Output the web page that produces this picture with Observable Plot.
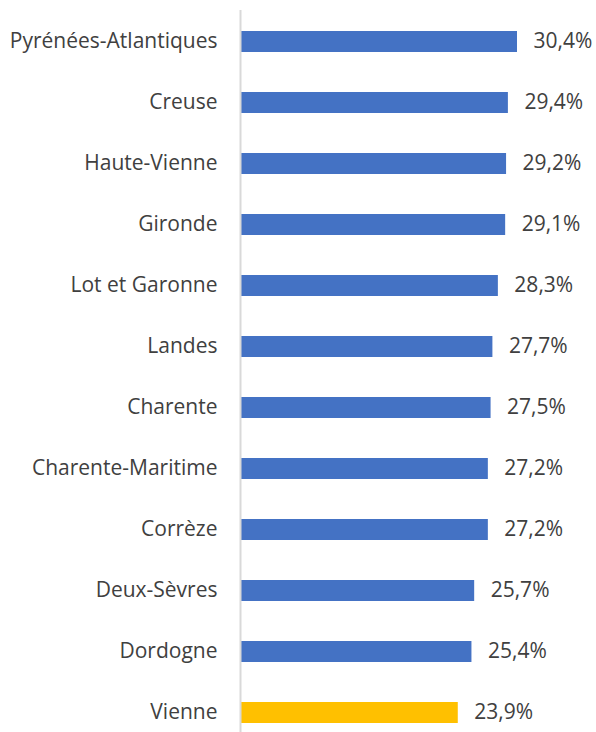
<!DOCTYPE html>
<html>
<head>
<meta charset="utf-8">
<script src="https://cdn.jsdelivr.net/npm/d3@7"></script>
<script src="https://cdn.jsdelivr.net/npm/@observablehq/plot@0.6"></script>
<style>
  html, body { margin: 0; padding: 0; background: #fff; }
</style>
</head>
<body>
<div id="chart"></div>
<script>
const departements = [
  "Pyrénées-Atlantiques", "Creuse", "Haute-Vienne", "Gironde", "Lot et Garonne",
  "Landes", "Charente", "Charente-Maritime", "Corrèze", "Deux-Sèvres", "Dordogne", "Vienne"
];
const valeurs = [30.4, 29.4, 29.2, 29.1, 28.3, 27.7, 27.5, 27.2, 27.2, 25.7, 25.4, 23.9];
const miseEnAvant = "Vienne";

const data = departements.map((d, i) => ({dep: d, val: valeurs[i], hl: d === miseEnAvant}));
const fmt = v => v.toFixed(1).replace(".", ",") + "%";

const chart = Plot.plot({
  width: 596,
  height: 732,
  marginLeft: 240,
  marginRight: 79,
  marginTop: 21,
  marginBottom: 0,
  style: {fontFamily: "'Open Sans', 'Noto Sans', sans-serif", fontSize: "21px", color: "#404040", background: "#fff"},
  x: {domain: [0, d3.max(valeurs)], axis: null},
  y: {domain: departements, paddingInner: 0.656, paddingOuter: 0.147, label: null},
  marks: [
    Plot.barX(data, {
      y: "dep", x: "val",
      fill: d => d.hl ? "#FFC000" : "#4472C4"
    }),
    Plot.ruleX([0], {stroke: "#d9d9d9", strokeWidth: 2, insetTop: -11}),
    Plot.axisY({tickSize: 0, tickPadding: 23, fontSize: 21, fill: "#404040", label: null, dy: -1}),
    Plot.text(data, {
      y: "dep", x: "val", text: d => fmt(d.val),
      dx: 16, dy: -1, textAnchor: "start", fontSize: 21, fill: "#404040"
    })
  ]
});
document.getElementById("chart").appendChild(chart);
</script>
</body>
</html>
